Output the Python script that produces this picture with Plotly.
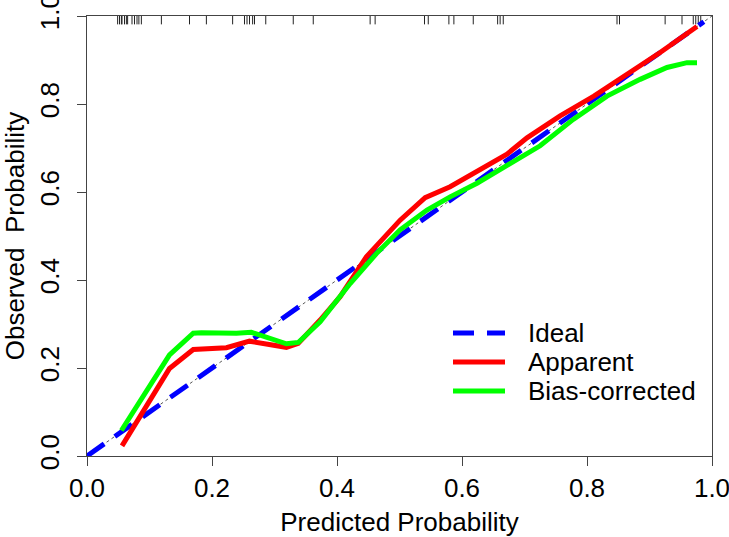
import plotly.graph_objects as go

# ---- data ----
ideal_x = [0.0, 0.987]
ideal_y = [0.0, 0.987]

diag_x = [0.0, 1.0]
diag_y = [0.0, 1.0]

apparent_x = [0.056, 0.132, 0.170, 0.223, 0.260, 0.319, 0.338, 0.373, 0.405,
              0.447, 0.501, 0.541, 0.581, 0.624, 0.672, 0.704, 0.757, 0.811,
              0.864, 0.917, 0.976]
apparent_y = [0.023, 0.199, 0.242, 0.246, 0.261, 0.247, 0.256, 0.309, 0.362,
              0.453, 0.536, 0.587, 0.612, 0.646, 0.686, 0.723, 0.773, 0.818,
              0.867, 0.917, 0.976]

bias_x = [0.055, 0.132, 0.170, 0.183, 0.239, 0.263, 0.319, 0.338, 0.373,
          0.421, 0.463, 0.501, 0.544, 0.581, 0.624, 0.672, 0.725, 0.778,
          0.832, 0.885, 0.928, 0.960, 0.976]
bias_y = [0.058, 0.230, 0.279, 0.280, 0.279, 0.281, 0.255, 0.258, 0.305,
          0.392, 0.460, 0.514, 0.559, 0.589, 0.620, 0.660, 0.705, 0.765,
          0.818, 0.856, 0.883, 0.894, 0.894]

rug_x = [0.049, 0.052, 0.055, 0.056, 0.060, 0.063, 0.065, 0.072, 0.076,
         0.080, 0.083, 0.087, 0.119, 0.164, 0.191, 0.233, 0.252, 0.256,
         0.260, 0.265, 0.268, 0.286, 0.330, 0.362, 0.453, 0.461, 0.540,
         0.546, 0.579, 0.587, 0.618, 0.657, 0.661, 0.666, 0.848, 0.852,
         0.925, 0.952, 0.970, 0.974, 0.978, 0.982]
rug_len = 0.019

tick_vals = [0.0, 0.2, 0.4, 0.6, 0.8, 1.0]
tick_text = ["0.0", "0.2", "0.4", "0.6", "0.8", "1.0"]

legend_names = ["Ideal", "Apparent", "Bias-corrected"]
legend_colors = ["#0000FF", "#FF0000", "#00FF00"]
legend_dash = ["21px,13px", "solid", "solid"]

# ---- figure ----
FONT = "Liberation Sans, Arial, Helvetica, sans-serif"

rx, ry = [], []
for v in rug_x:
    rx += [v, v, None]
    ry += [1.0, 1.0 - rug_len, None]

fig = go.Figure()
fig.add_trace(go.Scatter(x=rx, y=ry, mode="lines",
                         line=dict(color="#222222", width=1),
                         showlegend=False, hoverinfo="skip"))
fig.add_trace(go.Scatter(x=diag_x, y=diag_y, mode="lines",
                         line=dict(color="#555555", width=1, dash="3px,3px"),
                         showlegend=False, hoverinfo="skip"))
fig.add_trace(go.Scatter(x=ideal_x, y=ideal_y, mode="lines", name=legend_names[0],
                         line=dict(color=legend_colors[0], width=5, dash=legend_dash[0]),
                         showlegend=False))
fig.add_trace(go.Scatter(x=apparent_x, y=apparent_y, mode="lines", name=legend_names[1],
                         line=dict(color=legend_colors[1], width=5),
                         showlegend=False))
fig.add_trace(go.Scatter(x=bias_x, y=bias_y, mode="lines", name=legend_names[2],
                         line=dict(color=legend_colors[2], width=5),
                         showlegend=False))

# legend drawn as line samples + text (compact spacing like the original)
leg_x0, leg_x1, leg_tx = 0.5856, 0.6688, 0.704
leg_y = [0.2795, 0.2136, 0.1477]
for name, col, dash, yy in zip(legend_names, legend_colors, legend_dash, leg_y):
    fig.add_shape(type="line", xref="paper", yref="paper",
                  x0=leg_x0, x1=leg_x1, y0=yy, y1=yy,
                  line=dict(color=col, width=5, dash=dash))
    fig.add_annotation(xref="paper", yref="paper", x=leg_tx, y=yy,
                       xanchor="left", yanchor="middle", text=name,
                       showarrow=False, height=26, borderpad=0,
                       font=dict(family=FONT, size=26, color="black"))

axis_common = dict(
    range=[0, 1], tickvals=tick_vals, ticktext=tick_text,
    showline=True, linecolor="#444444", linewidth=1, mirror=True,
    ticks="outside", ticklen=9, tickcolor="#444444", tickwidth=1,
    showgrid=False, zeroline=False, ticklabeloverflow="allow",
    automargin=False,
    tickfont=dict(family=FONT, size=26, color="black"),
    fixedrange=True,
)

fig.update_layout(
    width=729, height=537,
    margin=dict(l=87, r=17, t=16, b=81, autoexpand=False),
    plot_bgcolor="white", paper_bgcolor="white",
    font=dict(family=FONT, size=26, color="black"),
    xaxis=dict(**axis_common,
               title=dict(text="Predicted Probability",
                          font=dict(family=FONT, size=26, color="black"),
                          standoff=14)),
    yaxis=dict(**axis_common, tickangle=-90, ticklabelstandoff=8,
               title=dict(text="Observed\u00a0 Probability",
                          font=dict(family=FONT, size=26, color="black"),
                          standoff=6)),
    showlegend=False,
)

fig.write_html("out.html")
